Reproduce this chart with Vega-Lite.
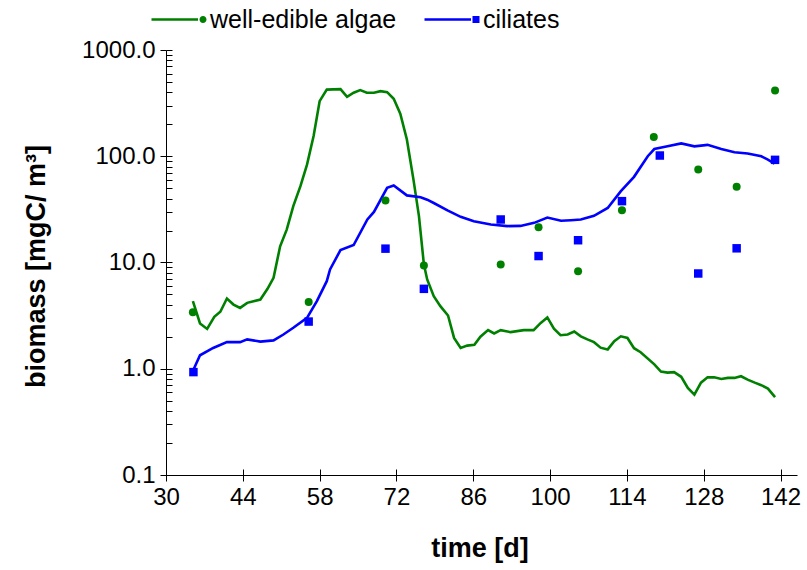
{
  "$schema": "https://vega.github.io/schema/vega-lite/v6.json",
  "autosize": {"type": "none"},
  "width": 631,
  "height": 425,
  "padding": {"left": 166, "top": 50, "right": 10, "bottom": 95},
  "background": "white",
  "config": {
    "view": {"stroke": null},
    "font": "Liberation Sans",
    "axis": {"grid": false, "domainColor": "black", "tickColor": "black", "labelColor": "black", "titleColor": "black", "labelFont": "Liberation Sans", "titleFont": "Liberation Sans", "domainWidth": 1, "tickWidth": 1},
    "legend": {"title": null, "orient": "none", "direction": "horizontal", "labelFontSize": 25, "labelColor": "black", "labelFont": "Liberation Sans", "labelLimit": 0, "symbolSize": 400, "symbolOffset": 16, "labelOffset": 19, "padding": 0, "symbolStrokeWidth": 0, "symbolOpacity": 1}
  },
  "datasets": {
    "model": [
      {"series": "well-edible algae", "day": 34.9, "value": 4.33},
      {"series": "well-edible algae", "day": 36.2, "value": 2.67},
      {"series": "well-edible algae", "day": 37.5, "value": 2.37},
      {"series": "well-edible algae", "day": 38.8, "value": 3.08},
      {"series": "well-edible algae", "day": 39.9, "value": 3.44},
      {"series": "well-edible algae", "day": 41.1, "value": 4.58},
      {"series": "well-edible algae", "day": 42.3, "value": 4.02},
      {"series": "well-edible algae", "day": 43.5, "value": 3.74},
      {"series": "well-edible algae", "day": 44.8, "value": 4.17},
      {"series": "well-edible algae", "day": 47.2, "value": 4.48},
      {"series": "well-edible algae", "day": 48.5, "value": 5.65},
      {"series": "well-edible algae", "day": 49.6, "value": 7.18},
      {"series": "well-edible algae", "day": 50.8, "value": 14.2},
      {"series": "well-edible algae", "day": 52.0, "value": 20.4},
      {"series": "well-edible algae", "day": 53.2, "value": 33.9},
      {"series": "well-edible algae", "day": 54.5, "value": 52.3},
      {"series": "well-edible algae", "day": 55.7, "value": 83.4},
      {"series": "well-edible algae", "day": 56.9, "value": 155},
      {"series": "well-edible algae", "day": 58.0, "value": 330},
      {"series": "well-edible algae", "day": 59.3, "value": 424},
      {"series": "well-edible algae", "day": 61.8, "value": 428},
      {"series": "well-edible algae", "day": 63.0, "value": 362},
      {"series": "well-edible algae", "day": 64.2, "value": 396},
      {"series": "well-edible algae", "day": 65.4, "value": 419},
      {"series": "well-edible algae", "day": 66.6, "value": 396},
      {"series": "well-edible algae", "day": 67.9, "value": 396},
      {"series": "well-edible algae", "day": 69.1, "value": 410},
      {"series": "well-edible algae", "day": 70.3, "value": 401},
      {"series": "well-edible algae", "day": 71.5, "value": 347},
      {"series": "well-edible algae", "day": 72.7, "value": 252},
      {"series": "well-edible algae", "day": 73.9, "value": 144},
      {"series": "well-edible algae", "day": 75.1, "value": 60.3},
      {"series": "well-edible algae", "day": 76.1, "value": 27.3},
      {"series": "well-edible algae", "day": 77.0, "value": 9.6},
      {"series": "well-edible algae", "day": 77.6, "value": 6.92},
      {"series": "well-edible algae", "day": 78.8, "value": 4.82},
      {"series": "well-edible algae", "day": 80.0, "value": 3.88},
      {"series": "well-edible algae", "day": 81.4, "value": 3.17},
      {"series": "well-edible algae", "day": 82.5, "value": 1.95},
      {"series": "well-edible algae", "day": 83.7, "value": 1.57},
      {"series": "well-edible algae", "day": 84.9, "value": 1.65},
      {"series": "well-edible algae", "day": 86.2, "value": 1.68},
      {"series": "well-edible algae", "day": 87.3, "value": 2.0},
      {"series": "well-edible algae", "day": 88.7, "value": 2.31},
      {"series": "well-edible algae", "day": 89.8, "value": 2.15},
      {"series": "well-edible algae", "day": 91.0, "value": 2.31},
      {"series": "well-edible algae", "day": 92.8, "value": 2.21},
      {"series": "well-edible algae", "day": 95.2, "value": 2.31},
      {"series": "well-edible algae", "day": 97.0, "value": 2.31},
      {"series": "well-edible algae", "day": 98.3, "value": 2.7},
      {"series": "well-edible algae", "day": 99.5, "value": 3.04},
      {"series": "well-edible algae", "day": 100.7, "value": 2.38},
      {"series": "well-edible algae", "day": 101.9, "value": 2.07},
      {"series": "well-edible algae", "day": 103.2, "value": 2.1},
      {"series": "well-edible algae", "day": 104.4, "value": 2.24},
      {"series": "well-edible algae", "day": 105.6, "value": 2.02},
      {"series": "well-edible algae", "day": 106.8, "value": 1.89},
      {"series": "well-edible algae", "day": 108.0, "value": 1.78},
      {"series": "well-edible algae", "day": 109.2, "value": 1.58},
      {"series": "well-edible algae", "day": 110.5, "value": 1.52},
      {"series": "well-edible algae", "day": 111.7, "value": 1.82},
      {"series": "well-edible algae", "day": 112.9, "value": 2.02},
      {"series": "well-edible algae", "day": 114.1, "value": 1.95},
      {"series": "well-edible algae", "day": 115.3, "value": 1.56},
      {"series": "well-edible algae", "day": 116.5, "value": 1.43},
      {"series": "well-edible algae", "day": 119.0, "value": 1.1},
      {"series": "well-edible algae", "day": 120.2, "value": 0.94},
      {"series": "well-edible algae", "day": 121.4, "value": 0.92},
      {"series": "well-edible algae", "day": 122.6, "value": 0.93},
      {"series": "well-edible algae", "day": 123.9, "value": 0.84},
      {"series": "well-edible algae", "day": 125.1, "value": 0.66},
      {"series": "well-edible algae", "day": 126.3, "value": 0.57},
      {"series": "well-edible algae", "day": 127.5, "value": 0.74},
      {"series": "well-edible algae", "day": 128.7, "value": 0.83},
      {"series": "well-edible algae", "day": 129.9, "value": 0.83},
      {"series": "well-edible algae", "day": 131.2, "value": 0.8},
      {"series": "well-edible algae", "day": 132.4, "value": 0.82},
      {"series": "well-edible algae", "day": 133.6, "value": 0.82},
      {"series": "well-edible algae", "day": 134.8, "value": 0.85},
      {"series": "well-edible algae", "day": 136.0, "value": 0.79},
      {"series": "well-edible algae", "day": 137.3, "value": 0.74},
      {"series": "well-edible algae", "day": 138.5, "value": 0.7},
      {"series": "well-edible algae", "day": 139.7, "value": 0.65},
      {"series": "well-edible algae", "day": 141.0, "value": 0.54},
      {"series": "ciliates", "day": 35.0, "value": 0.98},
      {"series": "ciliates", "day": 36.2, "value": 1.34},
      {"series": "ciliates", "day": 38.6, "value": 1.57},
      {"series": "ciliates", "day": 41.1, "value": 1.78},
      {"series": "ciliates", "day": 43.5, "value": 1.78},
      {"series": "ciliates", "day": 44.8, "value": 1.89},
      {"series": "ciliates", "day": 47.2, "value": 1.8},
      {"series": "ciliates", "day": 49.6, "value": 1.85},
      {"series": "ciliates", "day": 51.4, "value": 2.1},
      {"series": "ciliates", "day": 53.2, "value": 2.43},
      {"series": "ciliates", "day": 55.7, "value": 3.01},
      {"series": "ciliates", "day": 57.5, "value": 4.33},
      {"series": "ciliates", "day": 59.3, "value": 6.67},
      {"series": "ciliates", "day": 59.9, "value": 8.6},
      {"series": "ciliates", "day": 61.8, "value": 13.1},
      {"series": "ciliates", "day": 64.2, "value": 14.6},
      {"series": "ciliates", "day": 66.7, "value": 25.4},
      {"series": "ciliates", "day": 67.9, "value": 29.9},
      {"series": "ciliates", "day": 70.3, "value": 50.5},
      {"series": "ciliates", "day": 71.5, "value": 53},
      {"series": "ciliates", "day": 73.9, "value": 42.8},
      {"series": "ciliates", "day": 76.4, "value": 41.1},
      {"series": "ciliates", "day": 77.6, "value": 39},
      {"series": "ciliates", "day": 78.8, "value": 36.3},
      {"series": "ciliates", "day": 81.3, "value": 30.9},
      {"series": "ciliates", "day": 83.7, "value": 26.9},
      {"series": "ciliates", "day": 86.1, "value": 24.4},
      {"series": "ciliates", "day": 89.2, "value": 22.8},
      {"series": "ciliates", "day": 92.2, "value": 22.0},
      {"series": "ciliates", "day": 94.6, "value": 22.1},
      {"series": "ciliates", "day": 97.1, "value": 23.6},
      {"series": "ciliates", "day": 99.5, "value": 26.5},
      {"series": "ciliates", "day": 102.0, "value": 24.7},
      {"series": "ciliates", "day": 103.8, "value": 25.0},
      {"series": "ciliates", "day": 105.6, "value": 25.4},
      {"series": "ciliates", "day": 108.0, "value": 27.5},
      {"series": "ciliates", "day": 110.5, "value": 32.6},
      {"series": "ciliates", "day": 112.9, "value": 46.9},
      {"series": "ciliates", "day": 115.3, "value": 64},
      {"series": "ciliates", "day": 117.8, "value": 100},
      {"series": "ciliates", "day": 119.0, "value": 117},
      {"series": "ciliates", "day": 121.4, "value": 124},
      {"series": "ciliates", "day": 123.9, "value": 132},
      {"series": "ciliates", "day": 126.3, "value": 124},
      {"series": "ciliates", "day": 128.7, "value": 128},
      {"series": "ciliates", "day": 131.2, "value": 117},
      {"series": "ciliates", "day": 133.6, "value": 109},
      {"series": "ciliates", "day": 136.0, "value": 106},
      {"series": "ciliates", "day": 138.5, "value": 100},
      {"series": "ciliates", "day": 139.7, "value": 93},
      {"series": "ciliates", "day": 140.9, "value": 85}
    ],
    "obs": [
      {"series": "well-edible algae", "day": 34.9, "value": 3.4},
      {"series": "well-edible algae", "day": 56.0, "value": 4.26},
      {"series": "well-edible algae", "day": 70.0, "value": 38.3},
      {"series": "well-edible algae", "day": 77.0, "value": 9.36},
      {"series": "well-edible algae", "day": 91.0, "value": 9.58},
      {"series": "well-edible algae", "day": 97.9, "value": 21.5},
      {"series": "well-edible algae", "day": 105.1, "value": 8.28},
      {"series": "well-edible algae", "day": 113.1, "value": 31.1},
      {"series": "well-edible algae", "day": 118.9, "value": 152},
      {"series": "well-edible algae", "day": 127.0, "value": 75},
      {"series": "well-edible algae", "day": 134.0, "value": 51.5},
      {"series": "well-edible algae", "day": 141.0, "value": 416},
      {"series": "ciliates", "day": 35.0, "value": 0.93},
      {"series": "ciliates", "day": 56.0, "value": 2.78},
      {"series": "ciliates", "day": 70.0, "value": 13.5},
      {"series": "ciliates", "day": 77.0, "value": 5.65},
      {"series": "ciliates", "day": 91.0, "value": 25.4},
      {"series": "ciliates", "day": 97.9, "value": 11.5},
      {"series": "ciliates", "day": 105.1, "value": 16.2},
      {"series": "ciliates", "day": 113.1, "value": 37.8},
      {"series": "ciliates", "day": 120.0, "value": 101.6},
      {"series": "ciliates", "day": 127.0, "value": 7.88},
      {"series": "ciliates", "day": 134.0, "value": 13.6},
      {"series": "ciliates", "day": 141.0, "value": 92.5}
    ]
  },
  "layer": [
    {
      "data": {"name": "model"},
      "mark": {"type": "line", "strokeWidth": 2.6},
      "encoding": {
        "x": {
          "field": "day", "type": "quantitative",
          "scale": {"domain": [30, 145], "nice": false, "zero": false},
          "axis": {
            "values": [30, 44, 58, 72, 86, 100, 114, 128, 142],
            "tickSize": 6, "labelFontSize": 24, "labelPadding": 4, "labelFlush": false, "labelOverlap": false,
            "title": "time [d]", "titleFontSize": 27, "titleFontWeight": "bold",
            "titleX": 313.5, "titleY": 73, "titleBaseline": "middle", "titleAlign": "center"
          }
        },
        "y": {
          "field": "value", "type": "quantitative",
          "scale": {"type": "log", "domain": [0.1, 1000], "nice": false},
          "axis": {
            "values": [0.1, 1, 10, 100, 1000], "format": ".1f",
            "tickSize": 6, "labelFontSize": 24, "labelPadding": 5, "labelOverlap": false, "labelFlush": false,
            "title": "biomass [mgC/ m³]", "titleFontSize": 27, "titleFontWeight": "bold",
            "titleX": -130, "titleY": 216, "titleAngle": -90, "titleBaseline": "middle", "titleAlign": "center"
          }
        },
        "color": {
          "field": "series", "type": "nominal",
          "scale": {"domain": ["well-edible algae", "ciliates"], "range": ["#008000", "#0000FF"]},
          "legend": null
        }
      }
    },
    {
      "data": {"name": "obs"},
      "transform": [{"filter": "datum.series == 'well-edible algae'"}],
      "mark": {"type": "point", "filled": true, "opacity": 1, "size": 64, "shape": "circle"},
      "encoding": {
        "x": {
          "field": "day", "type": "quantitative",
          "axis": {"orient": "bottom", "values": [30, 44, 58, 72, 86, 100, 114, 128, 142], "tickSize": -6, "labels": false, "domain": false, "title": null}
        },
        "y": {
          "field": "value", "type": "quantitative",
          "axis": {"orient": "left", "values": [0.1, 0.2, 0.3, 0.4, 0.5, 0.6, 0.7, 0.8, 0.9, 1, 2, 3, 4, 5, 6, 7, 8, 9, 10, 20, 30, 40, 50, 60, 70, 80, 90, 100, 200, 300, 400, 500, 600, 700, 800, 900, 1000], "tickSize": -6, "labels": false, "domain": false, "title": null}
        },
        "color": {
          "field": "series", "type": "nominal",
          "scale": {"domain": ["well-edible algae"], "range": ["#008000"]},
          "legend": {"legendX": -16, "legendY": -43, "symbolType": "M-2.7,-0.13H1.95V0.13H-2.7Z M2.1,0A0.35,0.35,0,1,1,2.8,0A0.35,0.35,0,1,1,2.1,0Z"}
        }
      }
    },
    {
      "data": {"name": "obs"},
      "transform": [{"filter": "datum.series == 'ciliates'"}],
      "mark": {"type": "point", "filled": true, "opacity": 1, "size": 72, "shape": "square"},
      "encoding": {
        "x": {"field": "day", "type": "quantitative", "axis": null},
        "y": {"field": "value", "type": "quantitative", "axis": null},
        "color": {
          "field": "series", "type": "nominal",
          "scale": {"domain": ["ciliates"], "range": ["#0000FF"]},
          "legend": {"legendX": 257, "legendY": -43, "symbolType": "M-2.7,-0.13H1.95V0.13H-2.7Z M2.1,-0.35H2.8V0.35H2.1Z"}
        }
      }
    }
  ],
  "resolve": {"axis": {"x": "independent", "y": "independent"}, "scale": {"color": "independent"}, "legend": {"color": "independent"}}
}
